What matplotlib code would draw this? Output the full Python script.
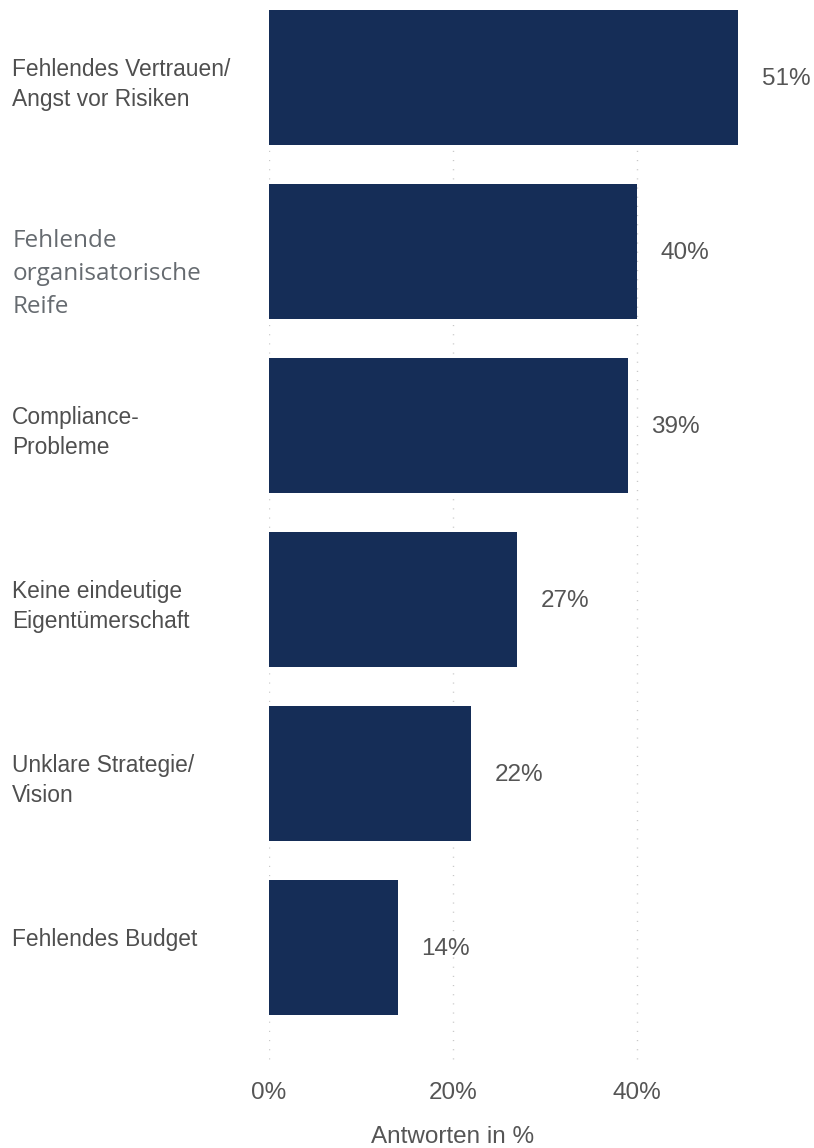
import matplotlib.pyplot as plt
from matplotlib import transforms

# Hindernisse, Antworten in %
categories = [
    'Fehlendes Vertrauen/\nAngst vor Risiken',
    'Fehlende\norganisatorische\nReife',
    'Compliance-\nProbleme',
    'Keine eindeutige\nEigentümerschaft',
    'Unklare Strategie/\nVision',
    'Fehlendes Budget',
]
values = [51, 40, 39, 27, 22, 14]
ticks = [0, 20, 40]
tick_labels = ['0%', '20%', '40%']

bar_color = '#152d57'
text_color = '#555555'

plt.rcParams['font.family'] = ['Liberation Sans', 'DejaVu Sans']

fig = plt.figure(figsize=(8.14, 11.48), dpi=100)
ax = fig.add_axes([0.3305, 0.0723, 0.6216, 0.9277])

pos = list(range(len(values)))
ax.barh(pos, values, height=0.78, color=bar_color, zorder=2)

ax.set_xlim(0, 55)
ax.set_ylim(5.675, -0.445)

# dotted vertical grid, starting below the first bar
ax.vlines(ticks, 0, 5.675, colors='#c8c8c8', lw=1.0, linestyles=[(0, (0.8, 5.8))], zorder=1)

ax.set_xticks(ticks)
ax.set_xticklabels(tick_labels, fontsize=17.5, color=text_color)
ax.tick_params(axis='x', length=0, pad=12)
ax.set_yticks([])
for s in ax.spines.values():
    s.set_visible(False)

# value labels
for i, v in enumerate(values):
    ax.annotate(f'{v}%', (v, i), xytext=(17, -1), textcoords='offset points',
                va='center', ha='left', fontsize=17.5, color=text_color)

# category labels on the left
trans = transforms.blended_transform_factory(fig.transFigure, ax.transData)
for i, c in enumerate(categories):
    if i == 1:
        shift = -23
        t = ax.text(13 / 814, i, c, ha='left', va='center',
                    fontsize=17.5, color='#666b70', family=['Open Sans', 'DejaVu Sans'],
                    linespacing=1.5)
    else:
        shift = -7 if '\n' in c else 8
        t = ax.text(12 / 814, i, c, ha='left', va='center',
                    fontsize=16.4, color='#4f4f4f', linespacing=1.4)
    t.set_transform(trans + transforms.ScaledTranslation(0, shift / 100, fig.dpi_scale_trans))

# axis title under the 20% tick
xtrans = transforms.blended_transform_factory(ax.transData, fig.transFigure)
ax.text(20, 1 - 1137 / 1148, 'Antworten in %', transform=xtrans, ha='center', va='center',
        fontsize=17.5, color=text_color)

fig.savefig('out.png', dpi=100)
